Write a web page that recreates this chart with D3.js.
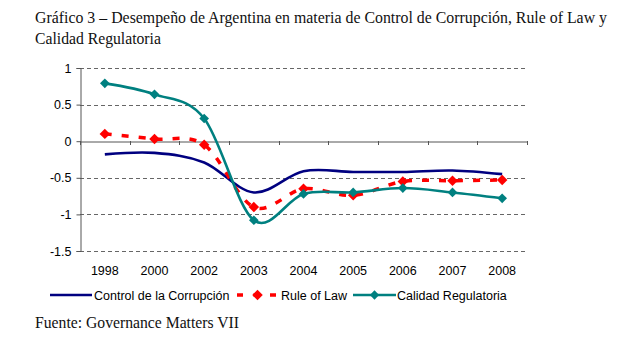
<!DOCTYPE html>
<html><head><meta charset="utf-8">
<script src="https://cdn.jsdelivr.net/npm/d3@7"></script>
<style>body{margin:0;background:#fff;} svg{display:block;}</style>
</head><body>
<svg id="c" width="621" height="352"></svg>
<script>
const years = ["1998","2000","2002","2003","2004","2005","2006","2007","2008"];
const controlCorrupcion = [-0.18,-0.16,-0.29,-0.70,-0.41,-0.42,-0.42,-0.40,-0.45];
const ruleOfLaw = [0.10,0.03,-0.05,-0.90,-0.65,-0.74,-0.55,-0.54,-0.53];
const calidadRegulatoria = [0.79,0.64,0.31,-1.08,-0.72,-0.70,-0.64,-0.70,-0.78];
const yTicks = [1,0.5,0,-0.5,-1,-1.5];
const seriesNames = ["Control de la Corrupción","Rule of Law","Calidad Regulatoria"];

const svg = d3.select("#c");
const L=80,R=527,T=68,B=251;
const x = d3.scaleBand().domain(years).range([L,R]);
const y = d3.scaleLinear().domain([-1.5,1]).range([B,T]);

// title
const title = svg.append("g").attr("font-family","Liberation Serif").attr("font-size",15.7).attr("fill","#111");
title.append("text").attr("x",35).attr("y",23).attr("textLength",572).attr("lengthAdjust","spacingAndGlyphs").text("Gráfico 3 – Desempeño de Argentina en materia de Control de Corrupción, Rule of Law y");
title.append("text").attr("x",35).attr("y",44).text("Calidad Regulatoria");
svg.append("text").attr("x",35).attr("y",328).attr("font-family","Liberation Serif").attr("font-size",15.7).attr("fill","#111").text("Fuente: Governance Matters VII");

// gridlines
svg.append("g").selectAll("line").data(yTicks.filter(d=>d!==0)).join("line")
  .attr("x1",L).attr("x2",R).attr("y1",d=>Math.round(y(d))+0.5).attr("y2",d=>Math.round(y(d))+0.5)
  .attr("stroke","#666").attr("stroke-dasharray","4,3").attr("stroke-width",1);

// y axis
const ya = svg.append("g").attr("transform",`translate(${L+0.5},0)`)
  .call(d3.axisLeft(y).tickValues(yTicks).tickSize(4).tickFormat(d=>String(d)));
ya.select(".domain").attr("stroke","#555");
ya.selectAll(".tick line").attr("stroke","#555");
ya.selectAll("text").attr("font-family","Liberation Sans").attr("font-size",12.5).attr("fill","#000").attr("x",-9);

// x axis at 0
const xa = svg.append("g").attr("transform",`translate(0,${Math.round(y(0))+0.5})`)
  .call(d3.axisBottom(x).tickSize(0).tickFormat(""));
xa.select(".domain").attr("stroke","#555");
svg.append("g").selectAll("line").data(years.concat(["end"])).join("line")
  .attr("x1",(d,i)=>Math.round(L+i*x.step())+0.5).attr("x2",(d,i)=>Math.round(L+i*x.step())+0.5)
  .attr("y1",Math.round(y(0))).attr("y2",Math.round(y(0))+4).attr("stroke","#555");
svg.append("g").selectAll("text").data(years).join("text")
  .attr("x",d=>x(d)+x.bandwidth()/2).attr("y",275).attr("text-anchor","middle")
  .attr("font-family","Liberation Sans").attr("font-size",12.5).attr("fill","#000").text(d=>d);

const cx = d=>x(d)+x.bandwidth()/2;
const line = d3.line().x((v,i)=>cx(years[i])).y(v=>y(v)).curve(d3.curveCatmullRom.alpha(0));
const diamond = d3.symbol().type(d3.symbolDiamond2);

// Control
svg.append("path").attr("d",line(controlCorrupcion)).attr("fill","none").attr("stroke","#000080").attr("stroke-width",2.6);
// Rule of law
svg.append("path").attr("d",line(ruleOfLaw)).attr("fill","none").attr("stroke","#ff0000").attr("stroke-width",3.5).attr("stroke-dasharray","7,10");
svg.append("g").selectAll("path").data(ruleOfLaw).join("path")
  .attr("d",diamond.size(70)).attr("transform",(v,i)=>`translate(${cx(years[i])},${y(v)})`).attr("fill","#ff0000");
// Calidad
svg.append("path").attr("d",line(calidadRegulatoria)).attr("fill","none").attr("stroke","#008080").attr("stroke-width",2.6);
svg.append("g").selectAll("path").data(calidadRegulatoria).join("path")
  .attr("d",diamond.size(60)).attr("transform",(v,i)=>`translate(${cx(years[i])},${y(v)})`).attr("fill","#008080");

// legend
const lg = svg.append("g").attr("font-family","Liberation Sans").attr("font-size",12.5).attr("fill","#000");
const ly=295;
lg.append("line").attr("x1",50).attr("x2",92).attr("y1",ly).attr("y2",ly).attr("stroke","#000080").attr("stroke-width",2.6);
lg.append("text").attr("x",94).attr("y",ly+4.5).text(seriesNames[0]);
lg.append("line").attr("x1",237).attr("x2",278).attr("y1",ly).attr("y2",ly).attr("stroke","#ff0000").attr("stroke-width",3.5).attr("stroke-dasharray","6,10.5");
lg.append("path").attr("d",diamond.size(70)).attr("transform",`translate(257.5,${ly})`).attr("fill","#ff0000");
lg.append("text").attr("x",281).attr("y",ly+4.5).text(seriesNames[1]);
lg.append("line").attr("x1",353).attr("x2",396).attr("y1",ly).attr("y2",ly).attr("stroke","#008080").attr("stroke-width",2.6);
lg.append("path").attr("d",diamond.size(55)).attr("transform",`translate(374.5,${ly})`).attr("fill","#008080");
lg.append("text").attr("x",397).attr("y",ly+4.5).text(seriesNames[2]);
</script>
</body></html>
